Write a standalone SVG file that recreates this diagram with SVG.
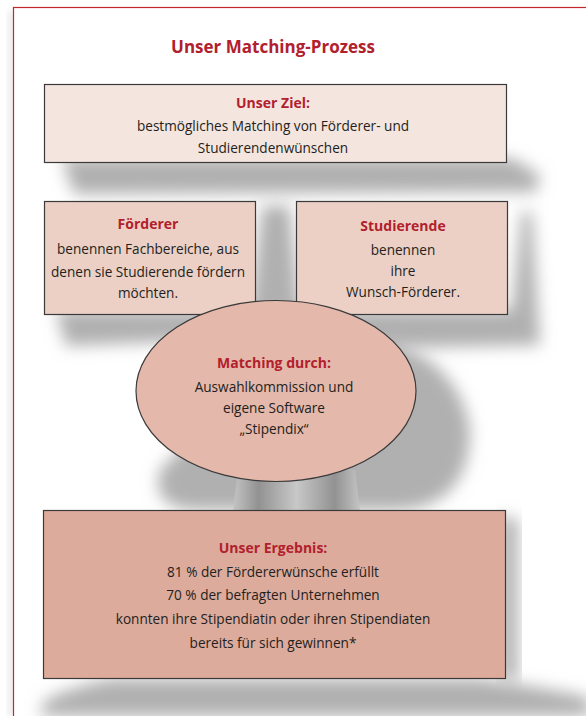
<svg xmlns="http://www.w3.org/2000/svg" width="586" height="716" viewBox="0 0 586 716">
<defs>
<style>
.t{font-family:"Open Sans","Liberation Sans",sans-serif;font-size:13.6px;fill:#231f20;text-anchor:middle}
.h{font-family:"Open Sans","Liberation Sans",sans-serif;font-size:14px;font-weight:bold;fill:#b2202d;text-anchor:middle}
.box{stroke:#3a3a3a;stroke-width:1.2}
.sh{fill:#b0b0b0;filter:url(#blur)}
</style>
<filter id="blur" x="-20%" y="-50%" width="140%" height="200%"><feGaussianBlur stdDeviation="8"/></filter>
<filter id="blur2" x="-20%" y="-50%" width="140%" height="200%"><feGaussianBlur stdDeviation="3"/></filter>
<linearGradient id="ped" x1="0" x2="1" y1="0" y2="0">
<stop offset="0" stop-color="#c4c4c4"/>
<stop offset="0.2" stop-color="#929292"/>
<stop offset="0.5" stop-color="#c8c8c8"/>
<stop offset="0.8" stop-color="#929292"/>
<stop offset="1" stop-color="#c4c4c4"/>
</linearGradient>
</defs>
<rect width="586" height="716" fill="#ffffff"/>
<rect x="8" y="10" width="8" height="706" fill="#ececec" filter="url(#blur2)"/>
<rect x="13.5" y="7.5" width="600" height="720" fill="#ffffff" stroke="#c1272d" stroke-width="1.2"/>

<g id="shadows">
<path class="sh" d="M62,158 L512,158 L540,175 L536,192 L74,194 Z"/>
<path class="sh" d="M56,310 L250,310 L262,206 L290,206 L300,310 L512,310 L522,210 L532,214 L540,345 L300,350 L260,338 L66,346 Z"/>
<path class="sh" d="M300,330 Q455,330 470,430 Q470,505 400,510 L190,510 Q150,505 160,470 Z"/>
<path class="sh" d="M40,716 L44,702 Q60,690 110,679 L480,679 Q560,690 590,698 L590,716 Z"/>
<path class="sh" d="M500,515 L518,520 L518,680 L500,680 Z"/>
<path d="M238,470 L355,470 L360,511 L233,511 Z" fill="url(#ped)"/>
</g>

<g id="connectors"></g>

<text x="273" y="53" class="h" style="font-size:17px">Unser Matching-Prozess</text>

<g id="ziel">
<rect x="44.5" y="84.5" width="462" height="78" fill="#f5e5df" class="box"/>
<text x="273" y="108" class="h">Unser Ziel:</text>
<text x="273" y="131" class="t">bestmögliches Matching von Förderer- und</text>
<text x="273" y="153" class="t">Studierendenwünschen</text>
</g>

<g id="foerderer">
<rect x="44.5" y="201.5" width="211" height="113" fill="#ecd0c5" class="box"/>
<text x="148" y="229" class="h">Förderer</text>
<text x="148" y="254" class="t">benennen Fachbereiche, aus</text>
<text x="148" y="277" class="t">denen sie Studierende fördern</text>
<text x="148" y="298" class="t">möchten.</text>
</g>

<g id="studierende">
<rect x="296.5" y="201.5" width="211" height="113" fill="#ecd0c5" class="box"/>
<text x="403" y="231" class="h">Studierende</text>
<text x="403" y="255" class="t">benennen</text>
<text x="403" y="276" class="t">ihre</text>
<text x="403" y="297" class="t">Wunsch-Förderer.</text>
</g>

<g id="matching">
<ellipse cx="276" cy="391" rx="140" ry="90.5" fill="#e4b8aa" class="box"/>
<text x="274" y="368" class="h">Matching durch:</text>
<text x="274" y="392" class="t">Auswahlkommission und</text>
<text x="274" y="413" class="t">eigene Software</text>
<text x="274" y="434" class="t">„Stipendix“</text>
</g>

<g id="ergebnis">
<rect x="43.5" y="510.5" width="462" height="168" fill="#ddab9c" class="box"/>
<text x="273" y="553" class="h">Unser Ergebnis:</text>
<text x="273" y="577" class="t">81 % der Fördererwünsche erfüllt</text>
<text x="273" y="600" class="t">70 % der befragten Unternehmen</text>
<text x="273" y="624" class="t">konnten ihre Stipendiatin oder ihren Stipendiaten</text>
<text x="273" y="648" class="t">bereits für sich gewinnen*</text>
</g>
</svg>
